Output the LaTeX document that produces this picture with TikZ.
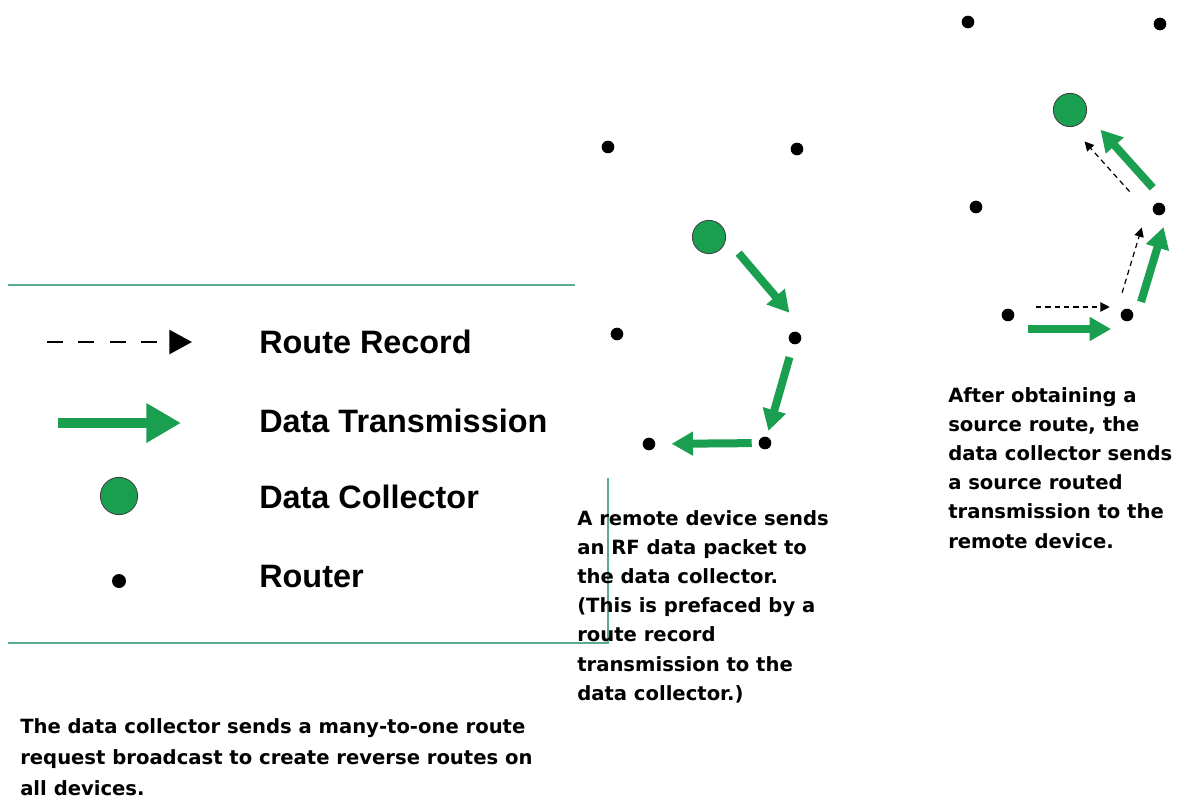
\documentclass[tikz,border=0pt]{standalone}
\usepackage{fontspec}
\usepackage{tikz}
\usetikzlibrary{arrows.meta,positioning}
\newfontfamily\legfont{Liberation Sans}
\newfontfamily\capfont{DejaVu Sans}
\definecolor{dcgreen}{RGB}{26,158,80}
\definecolor{legteal}{RGB}{90,170,145}

\begin{document}
\begin{tikzpicture}[x=0.75pt, y=-0.75pt,
   router/.style={circle, fill=black, inner sep=0pt, minimum size=9.5pt},
   collector/.style={circle, draw=black!75, line width=0.6pt, fill=dcgreen, inner sep=0pt, minimum size=25pt},
   datatx/.style={draw=dcgreen, line width=6pt, -{Triangle[width=17pt,length=16pt]}},
   routerec/.style={draw=black, line width=0.9pt, dash pattern=on 4pt off 3pt, -{Triangle[width=7pt,length=7pt]}},
   legline/.style={draw=legteal, line width=1.5pt},
   legtext/.style={anchor=west, inner sep=0pt, font=\legfont\bfseries\fontsize{24.3}{28}\selectfont},
   caption/.style={anchor=north west, align=left, inner sep=0pt, font=\capfont\bfseries\fontsize{14.7}{21.9}\selectfont}]
   \useasboundingbox[fill=white] (0,0) rectangle (1183,801);
   % legend frame
   \draw[legline] (8,285) -- (575,285);
   \draw[legline] (8,643) -- (608,643) -- (608,478);
   % legend
   \coordinate (rrs) at (47,342);
   \coordinate (rre) at (192,342);
   \coordinate (dts) at (58,423);
   \coordinate (dte) at (181,423);
   \draw[routerec, line width=2pt, dash pattern=on 12pt off 11.5pt, -{Triangle[width=18pt,length=17pt]}] (rrs) -- (rre);
   \draw[datatx, line width=7.5pt, -{Triangle[width=28pt,length=26pt]}] (dts) -- (dte);
   \node[collector, minimum size=28pt] (ldc) at (119,496) {};
   \node[router, minimum size=10.5pt] (lrt) at (119,581) {};
   \node[legtext] (lrr) at (259,342) {Route Record};
   \node[legtext] (ldt) at (259,421) {Data Transmission};
   \node[legtext] (ldcl) at (259,497) {Data Collector};
   \node[legtext] (lrtl) at (259,577) {Router};
   % middle network
   \node[router] (mtl) at (608,147) {};
   \node[router] (mtr) at (797,149) {};
   \node[router] (mml) at (617,334) {};
   \node[router] (mmr) at (795,338) {};
   \node[router] (mbl) at (649,444) {};
   \node[router] (mbr) at (765,443) {};
   \node[collector] (mdc) at (709,237) {};
   \draw[datatx, shorten <=11pt, shorten >=12pt, transform canvas={xshift=6.8pt, yshift=6pt}] (mdc) -- (mmr);
   \draw[datatx, shorten <=10pt, shorten >=4.5pt] (mmr) -- (mbr);
   \draw[datatx, shorten <=5pt, shorten >=12pt] (mbr) -- (mbl);
   % right network
   \node[router] (rtl) at (968,22) {};
   \node[router] (rtr) at (1160,24) {};
   \node[router] (rml) at (976,207) {};
   \node[router] (rmr) at (1159,209) {};
   \node[router] (rbl) at (1008,315) {};
   \node[router] (rbr) at (1127,315) {};
   \node[collector] (rdc) at (1070,110) {};
   \draw[routerec, shorten <=16pt, shorten >=8pt, transform canvas={yshift=6pt}] (rbl) -- (rbr);
   \draw[routerec, shorten <=10pt, shorten >=12pt, transform canvas={xshift=-8pt, yshift=2.4pt}] (rbr) -- (rmr);
   \draw[routerec, shorten <=19.5pt, shorten >=12pt, transform canvas={xshift=-5.7pt, yshift=-5.1pt}] (rmr) -- (rdc);
   \draw[datatx, shorten <=10pt, shorten >=7pt, transform canvas={yshift=-10.5pt}] (rbl) -- (rbr);
   \draw[datatx, shorten <=7.5pt, shorten >=7pt, transform canvas={xshift=6.9pt, yshift=-2.1pt}] (rbr) -- (rmr);
   \draw[datatx, shorten <=10pt, shorten >=13.5pt, transform canvas={xshift=5.3pt, yshift=4.8pt}] (rmr) -- (rdc);
   % captions
   \node[caption] (capmid) at (577,510) {A remote device sends\\an RF data packet to\\the data collector.\\(This is prefaced by a\\route record\\transmission to the\\data collector.)};
   \node[caption] (capright) at (948,387) {After obtaining a\\source route, the\\data collector sends\\a source routed\\transmission to the\\remote device.};
   \node[caption, font=\capfont\bfseries\fontsize{14.7}{23.5}\selectfont] (capbot) at (20,718) {The data collector sends a many-to-one route\\request broadcast to create reverse routes on\\all devices.};
\end{tikzpicture}
\end{document}
